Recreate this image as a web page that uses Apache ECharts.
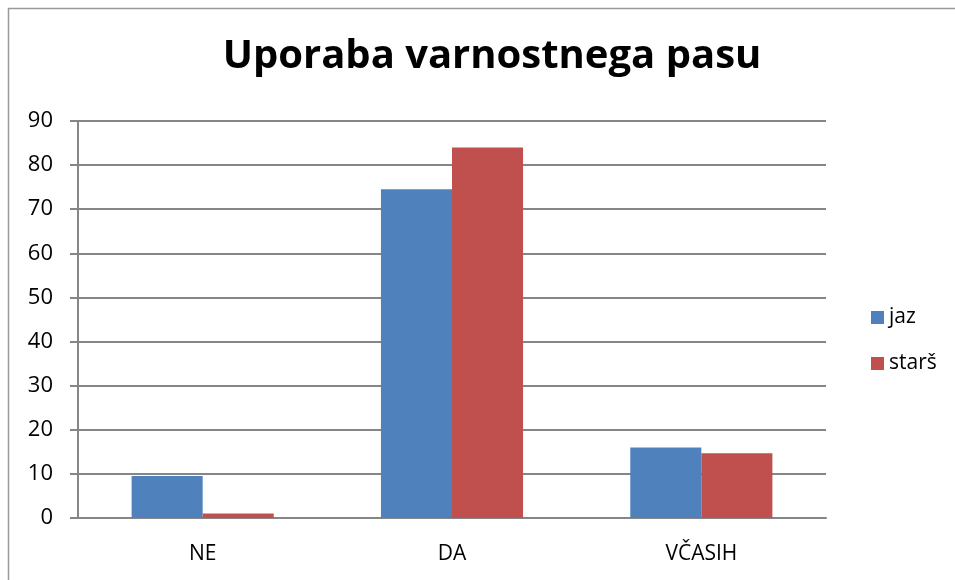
<!DOCTYPE html>
<html>
<head>
<meta charset="utf-8">
<script src="https://cdn.jsdelivr.net/npm/echarts@6/dist/echarts.min.js"></script>
<style>
  html, body { margin: 0; padding: 0; background: #fff; }
  #chart { width: 955px; height: 580px; }
</style>
</head>
<body>
<div id="chart"></div>
<script>
// Chart data
var categories = ['NE', 'DA', 'VČASIH'];
var jazValues = [9.5, 74.5, 16];
var starsValues = [1, 84, 14.7];
var seriesNames = ['jaz', 'starš'];

var FONT = '"Open Sans", "Liberation Sans", sans-serif';

var chart = echarts.init(document.getElementById('chart'));

var option = {
    backgroundColor: '#fff',
    animation: false,
    graphic: [{
        type: 'rect',
        shape: { x: 8.5, y: 8.5, width: 980, height: 620 },
        style: { fill: 'none', stroke: '#999', lineWidth: 1.5 },
        silent: true
    }],
    title: {
        text: 'Uporaba varnostnega pasu',
        left: 487,
        top: 32,
        textAlign: 'center',
        textStyle: {
            fontFamily: FONT,
            fontWeight: 'bold',
            fontSize: 40,
            color: '#000'
        }
    },
    legend: {
        orient: 'vertical',
        left: 866,
        top: 302,
        itemWidth: 13,
        itemHeight: 13,
        itemGap: 25,
        icon: 'rect',
        textStyle: { fontFamily: FONT, fontSize: 21, color: '#000' },
        data: seriesNames
    },
    grid: {
        left: 78,
        right: 129,
        top: 121,
        bottom: 62,
        containLabel: false
    },
    xAxis: {
        type: 'category',
        data: categories,
        axisLine: { lineStyle: { color: '#868686', width: 2 } },
        axisTick: { show: false },
        axisLabel: {
            fontFamily: FONT,
            fontSize: 21,
            color: '#000',
            margin: 26
        }
    },
    yAxis: {
        type: 'value',
        min: 0,
        max: 90,
        interval: 10,
        axisLine: { show: true, lineStyle: { color: '#868686', width: 2 } },
        axisTick: { show: true, length: 8, lineStyle: { color: '#868686', width: 2 } },
        axisLabel: {
            fontFamily: FONT,
            fontSize: 22,
            color: '#000',
            margin: 25
        },
        splitLine: { lineStyle: { color: '#868686', width: 2 } }
    },
    series: [{
        name: seriesNames[0],
        type: 'bar',
        data: jazValues,
        barGap: '0%',
        barCategoryGap: '43%',
        itemStyle: { color: '#4F81BD' }
    }, {
        name: seriesNames[1],
        type: 'bar',
        data: starsValues,
        itemStyle: { color: '#C0504D' }
    }]
};

chart.setOption(option);

window.addEventListener('resize', function() {
    chart.resize();
});
</script>
</body>
</html>
